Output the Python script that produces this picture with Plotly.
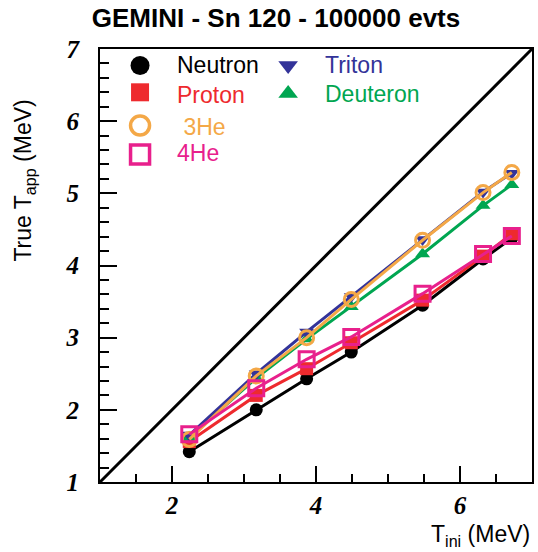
import plotly.graph_objects as go

# ---- data ----
t_ini = [2.24, 3.17, 3.87, 4.49, 5.48, 6.32, 6.72]
neutron = [1.42, 2.00, 2.43, 2.80, 3.45, 4.09, 4.38]
proton = [1.56, 2.20, 2.57, 2.93, 3.52, 4.13, 4.44]
deuteron = [1.62, 2.44, 2.98, 3.43, 4.16, 4.83, 5.12]
triton = [1.65, 2.50, 3.08, 3.57, 4.36, 5.02, 5.28]
he3 = [1.59, 2.47, 3.00, 3.53, 4.35, 5.01, 5.29]
he4 = [1.66, 2.30, 2.70, 3.01, 3.61, 4.16, 4.41]
diag = [1, 7]
x_ticks = [2, 4, 6]
y_ticks = [1, 2, 3, 4, 5, 6, 7]

C_N = "#000000"
C_P = "#ee2a2e"
C_D = "#00a651"
C_T = "#333399"
C_3 = "#f4a847"
C_4 = "#e8208c"

series = [
    ("Neutron", neutron, C_N, dict(symbol="circle", size=13, color=C_N)),
    ("Proton", proton, C_P, dict(symbol="square", size=13, color=C_P)),
    ("Deuteron", deuteron, C_D, dict(symbol="triangle-up", size=13, color=C_D)),
    ("Triton", triton, C_T, dict(symbol="triangle-down", size=13, color=C_T)),
    ("3He", he3, C_3, dict(symbol="circle-open", size=14, color=C_3, line=dict(width=3, color=C_3))),
    ("4He", he4, C_4, dict(symbol="square-open", size=15, color=C_4, line=dict(width=3, color=C_4))),
]

fig = go.Figure()

# diagonal
fig.add_trace(go.Scatter(x=diag, y=diag, mode="lines", line=dict(color="black", width=3),
                         showlegend=False, hoverinfo="skip"))

for name, ys, col, mk in series:
    fig.add_trace(go.Scatter(x=t_ini, y=ys, mode="lines+markers", name=name,
                             line=dict(color=col, width=3), marker=mk, showlegend=False))

# ---- manual legend (overlay axes in plot-area fraction) ----
leg_keys = [
    ("Neutron", 0.0927, 0.962, dict(symbol="circle", size=19, color=C_N), 0.1737, 0.962, C_N, "Neutron"),
    ("Proton", 0.0927, 0.900, dict(symbol="square", size=18, color=C_P), 0.1737, 0.893, C_P, "Proton"),
    ("3He", 0.0927, 0.8234, dict(symbol="circle-open", size=19, color=C_3, line=dict(width=3.5, color=C_3)), 0.1737, 0.820, C_3, " 3He"),
    ("4He", 0.0927, 0.7563, dict(symbol="square-open", size=19, color=C_4, line=dict(width=3.5, color=C_4)), 0.1737, 0.760, C_4, "4He"),
    ("Triton", 0.4355, 0.962, dict(symbol="triangle-down", size=17, color=C_T), 0.516, 0.962, C_T, "Triton"),
    ("Deuteron", 0.4355, 0.897, dict(symbol="triangle-up", size=17, color=C_D), 0.516, 0.897, C_D, "Deuteron"),
]
for name, mx, my, mk, tx, ty, col, txt in leg_keys:
    fig.add_trace(go.Scatter(x=[mx], y=[my], mode="markers", marker=mk, xaxis="x2", yaxis="y2",
                             showlegend=False, hoverinfo="skip"))
    fig.add_annotation(x=tx, y=ty, xref="paper", yref="paper", text=txt, showarrow=False,
                       xanchor="left", yanchor="middle",
                       font=dict(family="Liberation Sans, Arial", size=23, color=col))

tickfont = dict(family="Liberation Serif, Times New Roman", size=25, color="black",
                weight="bold", style="italic")

fig.update_layout(
    width=538, height=552,
    margin=dict(l=100, r=6, t=49, b=70, autoexpand=False),
    paper_bgcolor="white", plot_bgcolor="white",
    showlegend=False,
    title=dict(text="<b>GEMINI - Sn 120 - 100000 evts</b>", x=0.513, xanchor="center",
               y=0.967, yanchor="middle",
               font=dict(family="Liberation Sans, Arial", size=26, color="black")),
    xaxis=dict(range=[1, 7], tickvals=x_ticks, ticks="inside", ticklen=16, tickwidth=1.5,
               tickcolor="black", showgrid=False, zeroline=False, showline=True,
               linecolor="black", linewidth=2, mirror=True, tickfont=tickfont,
               ticklabelstandoff=0, automargin=False,
               minor=dict(dtick=0.5, tick0=0, ticks="inside", ticklen=8, tickwidth=1.5,
                          tickcolor="black", showgrid=False)),
    yaxis=dict(range=[1, 7], tickvals=y_ticks, ticks="inside", ticklen=17, tickwidth=1.5,
               tickcolor="black", showgrid=False, zeroline=False, showline=True,
               linecolor="black", linewidth=2, mirror=True, tickfont=tickfont,
               ticklabelstandoff=14, automargin=False,
               minor=dict(dtick=0.2, tick0=0, ticks="inside", ticklen=9, tickwidth=1.5,
                          tickcolor="black", showgrid=False)),
    xaxis2=dict(range=[0, 1], overlaying="x", visible=False, fixedrange=True),
    yaxis2=dict(range=[0, 1], overlaying="y", visible=False, fixedrange=True),
)

fig.add_annotation(x=1.0, y=-0.162, xref="paper", yref="paper",
                   text="T<sub>ini</sub> (MeV)", showarrow=False, xanchor="right", yanchor="bottom",
                   font=dict(family="Liberation Sans, Arial", size=23, color="black"))
fig.add_annotation(x=-0.175, y=0.697, xref="paper", yref="paper",
                   text="True T<sub>app</sub> (MeV)", showarrow=False, textangle=-90,
                   xanchor="center", yanchor="middle",
                   font=dict(family="Liberation Sans, Arial", size=23, color="black"))

fig.write_html("out.html", config={"displayModeBar": False},
               post_script="document.body.style.margin='0';document.body.style.overflow='hidden';")
